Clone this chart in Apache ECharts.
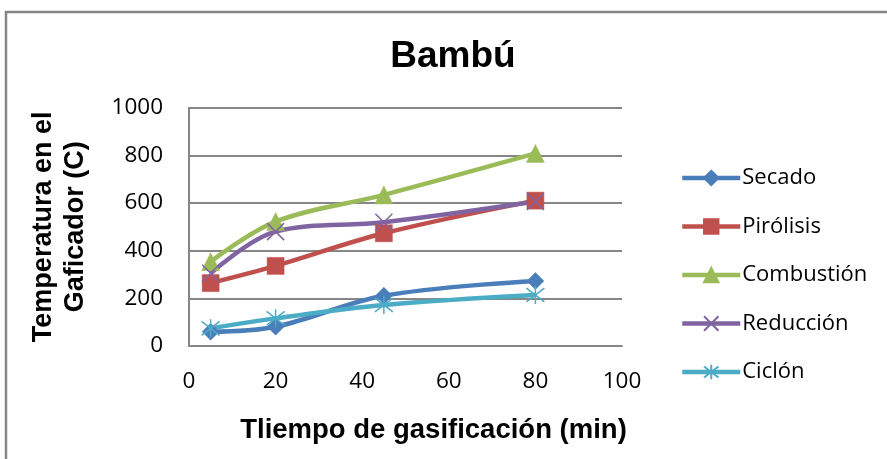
<!DOCTYPE html>
<html>
<head>
<meta charset="utf-8">
<script src="https://cdn.jsdelivr.net/npm/echarts@6/dist/echarts.min.js"></script>
<style>
  html, body { margin: 0; padding: 0; background: #fff; }
  #chart { width: 887px; height: 459px; }
</style>
</head>
<body>
<div id="chart"></div>
<script>
// Gasification time (min) at which temperatures were taken
const tiempos = [5, 20, 45, 80];

// Gasifier temperature (C) per zone
const secado = [60, 81, 211, 273];
const pirolisis = [264, 336, 473, 610];
const combustion = [354, 522, 634, 808];
const reduccion = [305, 480, 519, 606];
const ciclon = [74, 116, 172, 214];

const nombres = ['Secado', 'Pirólisis', 'Combustión', 'Reducción', 'Ciclón'];
const xTicks = [0, 20, 40, 60, 80, 100];
const yTicks = [0, 200, 400, 600, 800, 1000];

const colores = ['#4A7EBB', '#C0504D', '#9BBB59', '#8064A2', '#4BACC6'];
const simbolos = [
  'diamond',
  'rect',
  'triangle',
  'path://M0,0L10,10M10,0L0,10',
  'path://M0,0L10,10M10,0L0,10M5,-1.5L5,11.5'
];
const tamanos = [17, 17, 18, 17, 18];
const valores = [secado, pirolisis, combustion, reduccion, ciclon];

const tickFont = '"Open Sans", "Noto Sans", sans-serif';
const boldFont = '"Liberation Sans", Arial, sans-serif';

const series = nombres.map((nombre, i) => {
  const esLinea = i >= 3;
  return {
    name: nombre,
    type: 'line',
    data: tiempos.map((t, k) => [t, valores[i][k]]),
    smooth: 0.35,
    symbol: simbolos[i],
    symbolSize: tamanos[i],
    showAllSymbol: true,
    lineStyle: { color: colores[i], width: 4.5 },
    itemStyle: esLinea
      ? { color: colores[i], borderColor: colores[i], borderWidth: 1.5 }
      : { color: colores[i], borderColor: colores[i], borderWidth: 0.5 },
    emphasis: { disabled: true }
  };
});

const chart = echarts.init(document.getElementById('chart'), null, { renderer: 'canvas' });
chart.setOption({
  animation: false,
  backgroundColor: '#ffffff',
  title: {
    text: 'Bambú',
    left: 448,
    textAlign: 'center',
    top: 33,
    textStyle: { fontFamily: boldFont, fontWeight: 'bold', fontSize: 37, color: '#000' }
  },
  graphic: [{
    type: 'rect',
    shape: { x: 6, y: 12, width: 1000, height: 600 },
    style: { fill: 'none', stroke: '#868686', lineWidth: 2.5 },
    silent: true
  }],
  legend: {
    orient: 'vertical',
    left: 675,
    top: 162,
    itemWidth: 58,
    itemHeight: 18,
    itemGap: 26.5,
    data: nombres,
    lineStyle: { width: 4.5 },
    textStyle: { fontFamily: tickFont, fontSize: 22, color: '#000', padding: [0, 0, 0, -3] }
  },
  grid: { left: 189, right: 265, top: 107.7, bottom: 113, containLabel: false },
  xAxis: {
    type: 'value',
    min: xTicks[0],
    max: xTicks[xTicks.length - 1],
    interval: 20,
    name: 'Tliempo de gasificación (min)',
    nameLocation: 'middle',
    nameGap: 70,
    nameTextStyle: { fontFamily: boldFont, fontWeight: 'bold', fontSize: 27.5, color: '#000', padding: [0, 0, 0, 56] },
    axisLine: { show: true, lineStyle: { color: '#868686', width: 2 } },
    axisTick: { show: false },
    splitLine: { show: false },
    axisLabel: { fontFamily: tickFont, fontSize: 22.5, color: '#000', margin: 24, formatter: v => String(v) }
  },
  yAxis: {
    type: 'value',
    min: yTicks[0],
    max: yTicks[yTicks.length - 1],
    interval: 200,
    name: 'Temperatura en el\nGaficador (C)',
    nameLocation: 'middle',
    nameRotate: 90,
    nameGap: 97,
    nameTextStyle: { fontFamily: boldFont, fontWeight: 'bold', fontSize: 27, color: '#000', lineHeight: 32 },
    axisLine: { show: true, lineStyle: { color: '#868686', width: 2 } },
    axisTick: { show: false },
    splitLine: { show: true, lineStyle: { color: '#868686', width: 2 } },
    axisLabel: { fontFamily: tickFont, fontSize: 22.5, color: '#000', margin: 26, formatter: v => String(v) }
  },
  series: series
});
</script>
</body>
</html>
